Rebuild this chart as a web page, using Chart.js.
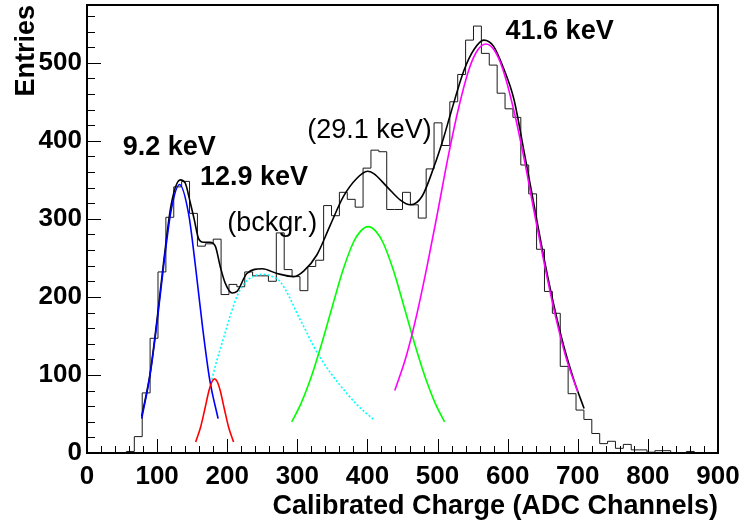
<!DOCTYPE html>
<html>
<head>
<meta charset="utf-8">
<title>Calibrated charge spectrum</title>
<script src="https://cdn.jsdelivr.net/npm/chart.js@4.4.1/dist/chart.umd.min.js"></script>
<style>
  body { margin: 0; background: #fff; }
  #wrap { width: 743px; height: 527px; }
</style>
</head>
<body>
<div id="wrap"><canvas id="spectrum" width="743" height="527"></canvas></div>
<script>
// histogram: 80 bins between 0 and 900 ADC channels
const histMin = 0;
const histMax = 900;
const counts = [
    0, 0, 0, 0, 0, 2, 21, 77, 147, 232,
    302, 341, 348, 307, 265, 268, 274, 203, 216, 213,
    232, 227, 227, 220, 282, 235, 226, 208, 239, 247,
    317, 304, 334, 325, 315, 365, 388, 386, 312, 312,
    334, 318, 301, 364, 423, 394, 450, 485, 529, 547,
    512, 497, 461, 441, 430, 369, 332, 261, 207, 179,
    111, 76, 55, 43, 25, 12, 15, 6, 11, 4,
    4, 1, 3, 3, 0, 0, 2, 0, 0, 0
];

// total fit
const totalX = [78, 90, 100, 110, 120, 133, 140, 147, 153, 159, 166, 175, 183, 190, 197, 207, 214, 228, 250, 271,
    295, 309, 328, 347, 366, 385, 400, 409, 428, 447, 461, 478, 495, 509, 519, 538, 552, 566, 580, 595,
    609, 623, 638, 650, 665, 680, 695, 709];
const totalY = [47, 102, 172, 250, 318, 350, 346, 322, 299, 275, 270, 270, 265, 239, 218, 205, 207, 230, 236, 230,
    226, 233, 254, 292, 329, 352, 361, 358, 341, 324, 318, 329, 367, 405, 436, 491, 517, 529, 521, 491,
    453, 388, 316, 258, 193, 137, 92, 57];

// 9.2 keV peak
const peak9X = [78, 90, 100, 110, 120, 132, 145, 155, 165, 175, 187];
const peak9Y = [44, 100, 168, 245, 311, 344, 306, 237, 160, 94, 44];

// 12.9 keV peak
const peak13X = [155, 162, 168, 174, 178, 182, 186, 190, 196, 202, 209];
const peak13Y = [14, 33, 56, 80, 91, 95, 91, 80, 56, 33, 14];

// background
const bgX = [178, 185, 195, 205, 215, 225, 237, 250, 262, 276, 288, 300, 312, 323, 335, 347, 359, 371, 385, 397, 409];
const bgY = [94, 118, 148, 178, 203, 218, 226, 229, 227, 219, 201, 178, 157, 137, 119, 103, 89, 76, 62, 52, 43];

// 29.1 keV peak
const peak29X = [292, 305, 320, 335, 350, 365, 380, 390, 401, 412, 422, 437, 452, 467, 482, 497, 510];
const peak29Y = [40, 63, 98, 141, 188, 234, 270, 284, 290, 284, 270, 234, 188, 141, 98, 63, 40];

// 41.6 keV peak
const peak42X = [439, 455, 470, 485, 500, 515, 530, 545, 557, 569, 581, 593, 608, 623, 638, 653, 668, 683, 700];
const peak42Y = [80, 123, 176, 239, 308, 379, 442, 492, 516, 524, 516, 492, 442, 379, 308, 239, 176, 123, 78];

const xTicks = [0, 100, 200, 300, 400, 500, 600, 700, 800, 900];
const yTicks = [0, 100, 200, 300, 400, 500];
const peakNames = ['9.2 keV', '12.9 keV', '(bckgr.)', '(29.1 keV)', '41.6 keV'];

function zip(xs, ys) {
    return xs.map((x, i) => ({x: x, y: ys[i]}));
}

function histPoints() {
    const w = (histMax - histMin) / counts.length;
    const pts = counts.map((c, i) => ({x: histMin + i * w, y: c}));
    pts.push({x: histMax, y: 0});
    return pts;
}

function curve(points, color, order, dash) {
    return {
        data: points,
        borderColor: color,
        borderWidth: 1.6,
        borderDash: dash || [],
        pointRadius: 0,
        fill: false,
        cubicInterpolationMode: 'monotone',
        order: order
    };
}

const FONT = 'Liberation Sans, Arial, Helvetica, sans-serif';

// frame, inward ticks and peak names
const frameAndLabels = {
    id: 'frameAndLabels',
    afterDatasetsDraw(chart) {
        const ctx = chart.ctx;
        const a = chart.chartArea;
        const x = chart.scales.x;
        const y = chart.scales.y;
        ctx.save();
        ctx.strokeStyle = '#000';
        ctx.lineWidth = 1;
        for (let v = 0; v <= 900; v += 20) {
            const px = Math.round(x.getPixelForValue(v)) + 0.5;
            const len = v % 100 === 0 ? 14 : 7;
            ctx.beginPath();
            ctx.moveTo(px, a.bottom);
            ctx.lineTo(px, a.bottom - len);
            ctx.stroke();
        }
        for (let v = 0; v <= y.max; v += 20) {
            const py = Math.round(y.getPixelForValue(v)) + 0.5;
            const len = v % 100 === 0 ? 14 : 8;
            ctx.beginPath();
            ctx.moveTo(a.left, py);
            ctx.lineTo(a.left + len, py);
            ctx.stroke();
        }
        ctx.lineWidth = 2;
        ctx.strokeRect(a.left, a.top, a.right - a.left, a.bottom - a.top);

        const spots = [[51, 382, true], [161, 344, true], [200, 285, false], [314, 404, false], [597, 531, true]];
        ctx.fillStyle = '#000';
        ctx.textBaseline = 'alphabetic';
        ctx.textAlign = 'left';
        peakNames.forEach((name, i) => {
            const s = spots[i];
            ctx.font = (s[2] ? 'bold ' : '') + '27px ' + FONT;
            ctx.fillText(name, x.getPixelForValue(s[0]), y.getPixelForValue(s[1]));
        });
        ctx.restore();
    }
};

const tickFont = {family: FONT, size: 26, weight: 'bold'};
const titleFont = {family: FONT, size: 27, weight: 'bold'};

new Chart(document.getElementById('spectrum').getContext('2d'), {
    type: 'line',
    data: {
        datasets: [
            {
                data: histPoints(),
                borderColor: '#1a1a1a',
                borderWidth: 1,
                stepped: true,
                pointRadius: 0,
                fill: false,
                order: 7
            },
            curve(zip(totalX, totalY), '#000', 6),
            curve(zip(bgX, bgY), '#00ffff', 5, [2, 2]),
            curve(zip(peak9X, peak9Y), '#0000ff', 4),
            curve(zip(peak13X, peak13Y), '#ff0000', 3),
            curve(zip(peak29X, peak29Y), '#00ff00', 2),
            curve(zip(peak42X, peak42Y), '#ff00ff', 1)
        ]
    },
    options: {
        responsive: false,
        animation: false,
        layout: {padding: {left: 0, top: 5, right: 25, bottom: 0}},
        plugins: {legend: {display: false}, tooltip: {enabled: false}},
        scales: {
            x: {
                type: 'linear',
                min: histMin,
                max: histMax,
                grid: {display: false, drawTicks: false},
                border: {display: false},
                ticks: {font: tickFont, color: '#000', padding: 8, maxRotation: 0, autoSkip: false},
                afterBuildTicks: s => { s.ticks = xTicks.map(v => ({value: v})); },
                afterFit: s => {
                    s.height = 74;
                    s.paddingLeft = 0;
                    s.paddingRight = 0;
                },
                title: {display: true, text: 'Calibrated Charge (ADC Channels)', align: 'end',
                    font: titleFont, color: '#000', padding: {top: 0, bottom: 4}}
            },
            y: {
                min: 0,
                max: 574,
                grid: {display: false, drawTicks: false},
                border: {display: false},
                ticks: {font: tickFont, color: '#000', padding: 5, autoSkip: false},
                afterBuildTicks: s => { s.ticks = yTicks.map(v => ({value: v})); },
                afterFit: s => {
                    s.width = 87;
                    s.paddingTop = 0;
                    s.paddingBottom = 0;
                },
                title: {display: true, text: 'Entries', align: 'end',
                    font: titleFont, color: '#000', padding: {top: 10, bottom: 0}}
            }
        }
    },
    plugins: [frameAndLabels]
});
</script>
</body>
</html>
